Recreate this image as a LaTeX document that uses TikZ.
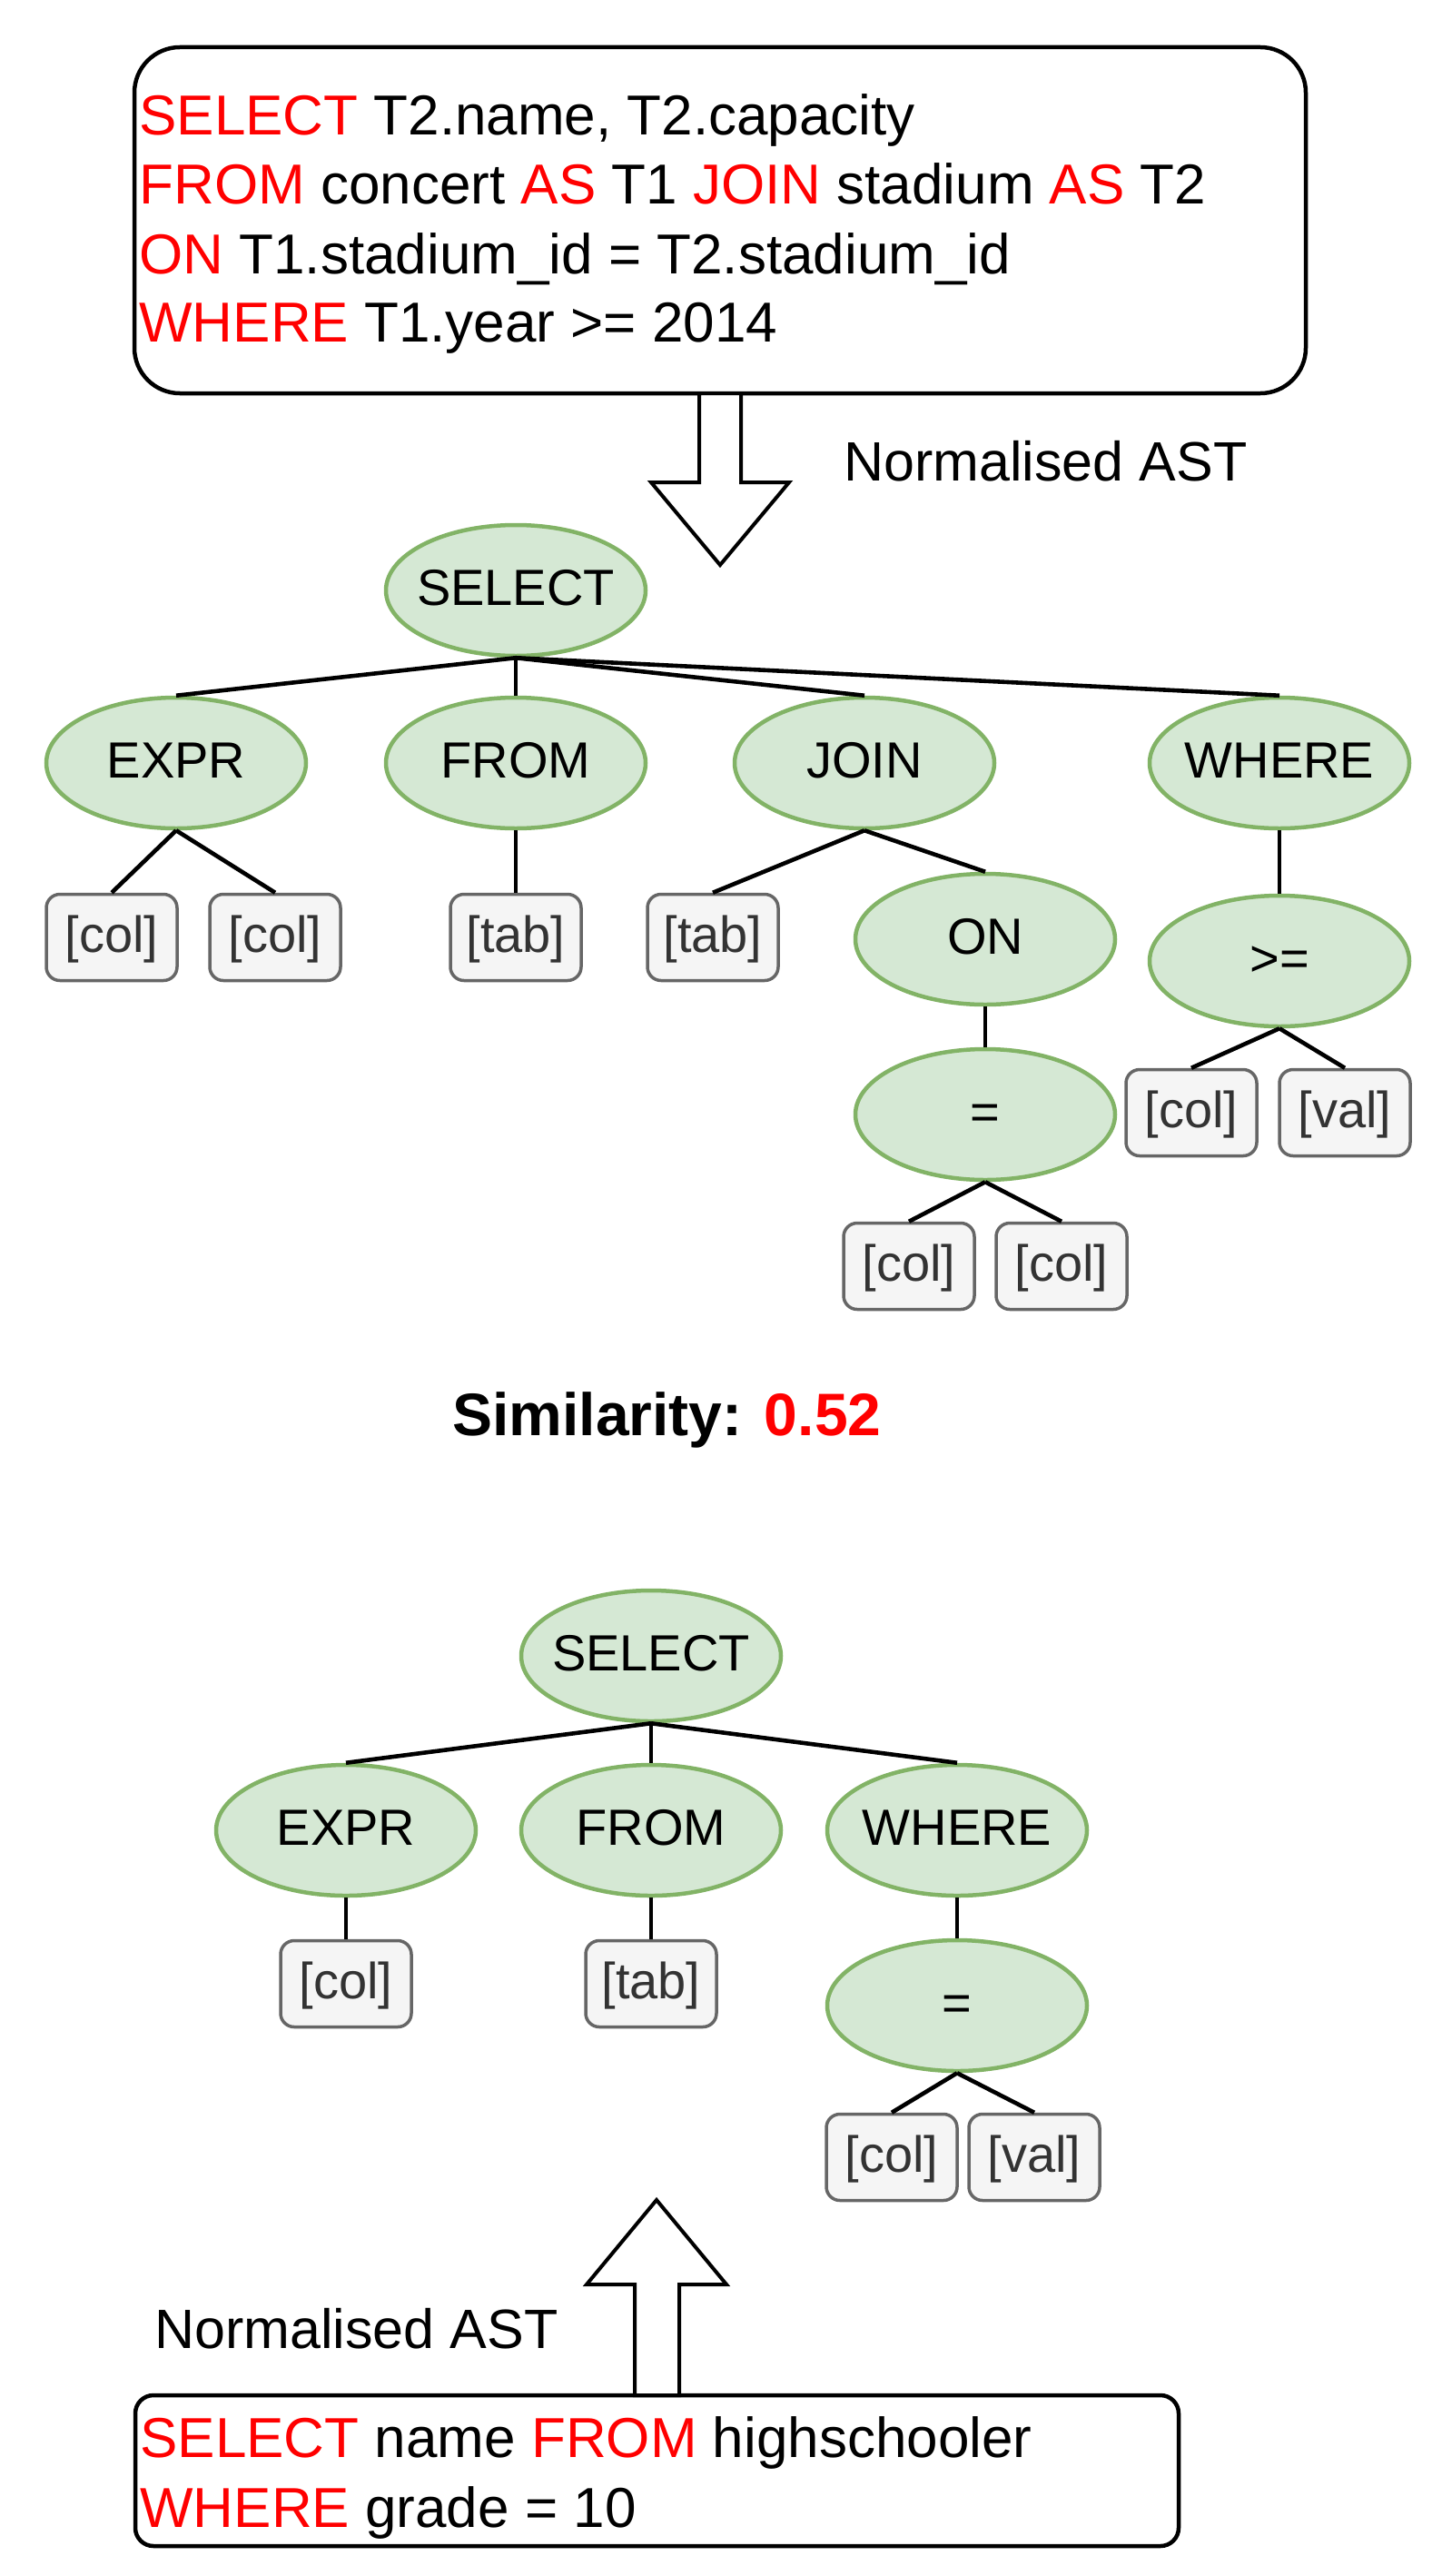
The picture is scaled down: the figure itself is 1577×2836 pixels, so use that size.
\documentclass[tikz,border=0pt]{standalone}
\usepackage{fontspec}
\setmainfont{Liberation Sans}
\usetikzlibrary{shapes.geometric}
\definecolor{kwred}{HTML}{FF0000}
\definecolor{ellfill}{HTML}{D5E8D4}
\definecolor{ellline}{HTML}{82B366}
\definecolor{boxfill}{HTML}{F5F5F5}
\definecolor{boxline}{HTML}{666666}
\definecolor{boxtext}{HTML}{333333}
\newcommand{\kw}[1]{{\color{kwred}#1}}
\begin{document}
\begin{tikzpicture}[x=0.5pt,y=-0.5pt,
  ell/.style={ellipse, draw=ellline, fill=ellfill, line width=2.25pt,
    minimum width=143pt, minimum height=72pt, inner xsep=-8pt, inner ysep=0pt,
    font=\fontsize{28pt}{33pt}\selectfont, text height=22.4pt, text depth=5.6pt},
  leaf/.style={rectangle, rounded corners=7.5pt, draw=boxline, fill=boxfill,
    line width=1.75pt, minimum width=72pt, minimum height=47.5pt, inner sep=0pt,
    text=boxtext, font=\fontsize{28pt}{33pt}\selectfont, text height=22.4pt, text depth=5.6pt},
  link/.style={line width=2.3pt, black},
  sqlbox/.style={rectangle, draw=black, line width=2.25pt, fill=white, inner sep=0pt},
  sqltext/.style={anchor=base west, inner sep=0pt, font=\fontsize{31pt}{37pt}\selectfont},
  labeltext/.style={anchor=base west, inner sep=0pt, font=\fontsize{30.5pt}{36pt}\selectfont},
  blockarrow/.style={draw=black, line width=2pt, fill=white, line join=miter},
]
\useasboundingbox (0,0) rectangle (1577,2836);

% ---------- top SQL box ----------
\node[sqlbox, rounded corners=25pt, minimum width=645pt, minimum height=190.5pt] (sqltop) at (793,242.5) {};
\node[sqltext] (t1) at (153,149) {\kw{SELECT} T2.name, T2.capacity};
\node[sqltext] (t2) at (153,225) {\kw{FROM} concert \kw{AS} T1 \kw{JOIN} stadium \kw{AS} T2};
\node[sqltext] (t3) at (153,301) {\kw{ON} T1.stadium\_id = T2.stadium\_id};
\node[sqltext] (t4) at (153,376) {\kw{WHERE} T1.year >= 2014};

% down block arrow
\draw[blockarrow] (770,433) -- (816,433) -- (816,531) -- (869,531) -- (793,622) -- (717,531) -- (770,531) -- cycle;
\node[labeltext] (lbltop) at (929,529) {Normalised AST};

% ---------- top tree ----------
\node[ell] (sel1) at (568,650) {SELECT};
\node[ell] (expr1) at (194,840) {EXPR};
\node[ell] (from1) at (568,840) {FROM};
\node[ell] (join1) at (952,840) {JOIN};
\node[ell] (where1) at (1409,840) {WHERE};
\node[leaf] (cola) at (123,1032) {[col]};
\node[leaf] (colb) at (303,1032) {[col]};
\node[leaf] (taba) at (568,1032) {[tab]};
\node[leaf] (tabb) at (785,1032) {[tab]};
\node[ell] (on1) at (1085,1034) {ON};
\node[ell] (ge1) at (1409,1058) {>=};
\node[ell] (eq1) at (1085,1227) {=};
\node[leaf] (colc) at (1312,1225) {[col]};
\node[leaf] (vala) at (1481,1225) {[val]};
\node[leaf] (cold) at (1001,1394) {[col]};
\node[leaf] (cole) at (1169,1394) {[col]};

\draw[link] (sel1.south) -- (expr1.north);
\draw[link] (sel1.south) -- (from1.north);
\draw[link] (sel1.south) -- (join1.north);
\draw[link] (sel1.south) -- (where1.north);
\draw[link] (expr1.south) -- (cola.north);
\draw[link] (expr1.south) -- (colb.north);
\draw[link] (from1.south) -- (taba.north);
\draw[link] (join1.south) -- (tabb.north);
\draw[link] (join1.south) -- (on1.north);
\draw[link] (on1.south) -- (eq1.north);
\draw[link] (where1.south) -- (ge1.north);
\draw[link] (ge1.south) -- (colc.north);
\draw[link] (ge1.south) -- (vala.north);
\draw[link] (eq1.south) -- (cold.north);
\draw[link] (eq1.south) -- (cole.north);

% ---------- similarity ----------
\node[anchor=base west, inner sep=0pt, font=\fontsize{33pt}{40pt}\selectfont\bfseries] (sim) at (498,1580) {Similarity: \kw{0.52}};

% ---------- bottom tree ----------
\node[ell] (sel2) at (717,1823) {SELECT};
\node[ell] (expr2) at (381,2015) {EXPR};
\node[ell] (from2) at (717,2015) {FROM};
\node[ell] (where2) at (1054,2015) {WHERE};
\node[leaf] (colf) at (381,2184) {[col]};
\node[leaf] (tabc) at (717,2184) {[tab]};
\node[ell] (eq2) at (1054,2208) {=};
\node[leaf] (colg) at (982,2375) {[col]};
\node[leaf] (valb) at (1139,2375) {[val]};

\draw[link] (sel2.south) -- (expr2.north);
\draw[link] (sel2.south) -- (from2.north);
\draw[link] (sel2.south) -- (where2.north);
\draw[link] (expr2.south) -- (colf.north);
\draw[link] (from2.south) -- (tabc.north);
\draw[link] (where2.south) -- (eq2.north);
\draw[link] (eq2.south) -- (colg.north);
\draw[link] (eq2.south) -- (valb.north);

% ---------- bottom SQL box ----------
\node[sqlbox, rounded corners=10pt, minimum width=574.5pt, minimum height=83pt] (sqlbot) at (723.5,2720) {};
\node[sqltext] (b1) at (154,2705) {\kw{SELECT} name \kw{FROM} highschooler};
\node[sqltext] (b2) at (154,2782) {\kw{WHERE} grade = 10};

% up block arrow
\draw[blockarrow] (699,2637) -- (748,2637) -- (748,2515) -- (800,2515) -- (723,2422) -- (646,2515) -- (699,2515) -- cycle;
\node[labeltext] (lblbot) at (170,2585) {Normalised AST};
\end{tikzpicture}
\end{document}
